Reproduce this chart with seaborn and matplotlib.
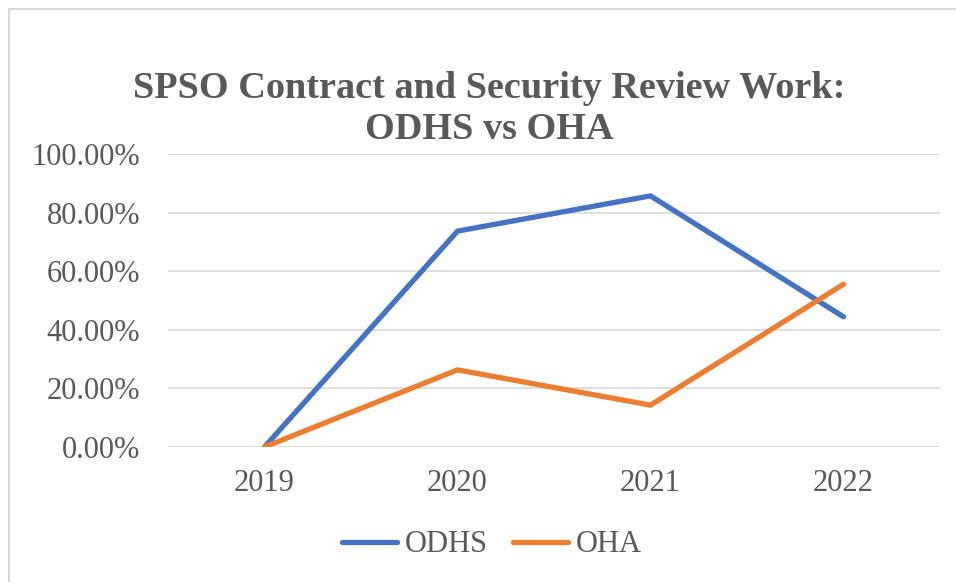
import numpy as np
import matplotlib
matplotlib.use("Agg")
import matplotlib.pyplot as plt
import pandas as pd
import seaborn as sns
from matplotlib.patches import Rectangle
from matplotlib.ticker import FuncFormatter

years = ['2019', '2020', '2021', '2022']
odhs = [0.0, 73.68, 85.71, 44.44]
oha = [0.0, 26.32, 14.29, 55.56]
series_names = ['ODHS', 'OHA']
series_colors = ['#4472C4', '#ED7D31']

df = pd.DataFrame({
    'Year': years * 2,
    'Value': odhs + oha,
    'Series': [series_names[0]] * len(years) + [series_names[1]] * len(years),
})

sns.set_style('white')
plt.rcParams['font.family'] = ['Liberation Serif', 'DejaVu Serif']
text_col = '#595959'

fig = plt.figure(figsize=(9.56, 5.82), dpi=100)
# outer chart frame (Excel style)
fig.patches.append(Rectangle((9 / 956, -0.05), 1.2, 1 - 9 / 582 + 0.05,
                             transform=fig.transFigure, fill=False,
                             edgecolor='#d9d9d9', linewidth=1.5))

ax = fig.add_axes([168 / 956, 1 - 447 / 582, (940 - 168) / 956, (447 - 154) / 582])
sns.lineplot(data=df, x='Year', y='Value', hue='Series', palette=series_colors,
             linewidth=3.8, ax=ax, legend=False, sort=False)
for ln in ax.lines:
    ln.set_solid_capstyle('round')
    ln.set_solid_joinstyle('round')

ax.set_xlim(-0.5, 3.5)
ax.set_ylim(0, 100)
ax.set_yticks(np.arange(0, 101, 20))
ax.yaxis.set_major_formatter(FuncFormatter(lambda v, p: f'{v:.2f}%'))
ax.grid(axis='y', color='#d9d9d9', linewidth=1.2)
ax.set_axisbelow(True)
for s in ax.spines.values():
    s.set_visible(False)
ax.tick_params(axis='y', length=0, pad=20, labelsize=22, labelcolor=text_col)
ax.tick_params(axis='x', length=0, pad=16, labelsize=22, labelcolor=text_col)
ax.set_xlabel('')
ax.set_ylabel('')

fig.text(489 / 956, 1 - 109 / 582, 'SPSO Contract and Security Review Work:\nODHS vs OHA',
         ha='center', va='center', fontsize=27.5, fontweight='bold', color=text_col,
         linespacing=1.2)

handles = [plt.Line2D([], [], color=c, linewidth=3.8, solid_capstyle='round') for c in series_colors]
leg = fig.legend(handles, series_names, loc='center', bbox_to_anchor=(492 / 956, 1 - 545 / 582),
                 ncol=2, frameon=False, fontsize=22, handlelength=1.8, handletextpad=0.25,
                 columnspacing=0.85)
for t in leg.get_texts():
    t.set_color(text_col)

fig.savefig('out.png', dpi=100)
